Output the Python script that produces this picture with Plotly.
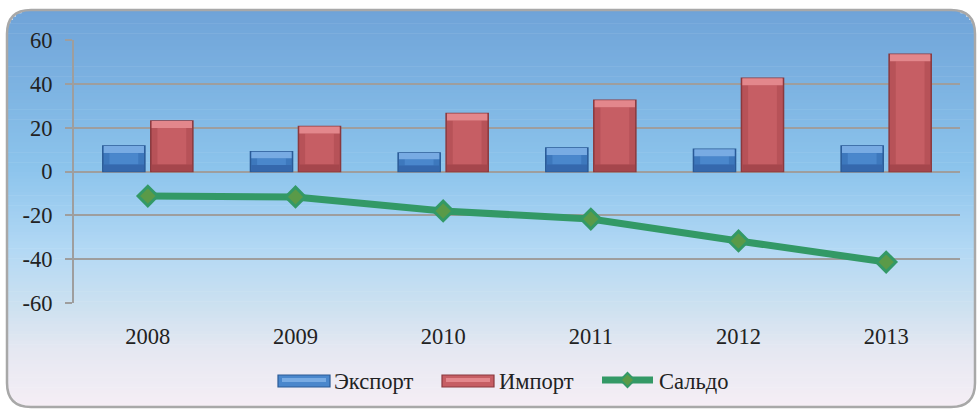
import plotly.graph_objects as go

# Trade figures by year
years = ["2008", "2009", "2010", "2011", "2012", "2013"]
export_vals = [11.6, 9.0, 8.4, 10.7, 10.2, 11.6]
import_vals = [23.0, 20.5, 26.5, 32.5, 42.5, 53.5]
saldo_vals = [-11.2, -11.6, -18.0, -21.7, -31.7, -41.3]
y_ticks = [-60, -40, -20, 0, 20, 40, 60]
y_ticktext = ["-60", "-40", "-20", "0", "20", "40", "60"]

W, H = 979, 410
ML, MR, MT, MB = 74, 19, 40, 107
PW, PH = W - ML - MR, H - MT - MB

FONT = "Liberation Serif"
FSIZE = 22.5
TXT = "#222222"
GRID = "#9e9e9e"

# bevel palettes: outline, side, centre, top face, bottom face
EXP = dict(ln="#2a5a96", side="#3d78bd", mid="#4a87cc", top="#78abe3", bot="#3568ad")
IMP = dict(ln="#8a393e", side="#b75258", mid="#c65e64", top="#e3878c", bot="#a5464c")
SAL_C = "#339966"


def px_x(v):
    return (v - ML) / PW


def px_y(v):
    return (H - MB - v) / PH


# Vertical background gradient (blue at top fading to pale pink-white)
stops = [
    (0.00, (111, 163, 216)),
    (0.40, (140, 196, 236)),
    (0.60, (178, 216, 244)),
    (0.75, (205, 225, 240)),
    (0.86, (230, 232, 242)),
    (1.00, (245, 238, 245)),
]


def grad(t):
    for (t0, c0), (t1, c1) in zip(stops, stops[1:]):
        if t <= t1:
            f = (t - t0) / (t1 - t0)
            return "rgb(%d,%d,%d)" % tuple(round(a + (b - a) * f) for a, b in zip(c0, c1))
    return "rgb(%d,%d,%d)" % stops[-1][1]


FX0, FX1, FY0, FY1, R = 7, 975, 10, 407, 24
shapes = []
n = 120
for i in range(n):
    ya = FY0 + (FY1 - FY0) * i / n
    yb = FY0 + (FY1 - FY0) * (i + 1) / n + 0.6
    ym = (ya + yb) / 2
    inset = 0.0
    if ym < FY0 + R:
        d = FY0 + R - ym
        inset = R - (R * R - d * d) ** 0.5
    elif ym > FY1 - R:
        d = ym - (FY1 - R)
        inset = R - (R * R - min(d, R) ** 2) ** 0.5
    shapes.append(dict(
        type="rect", xref="paper", yref="paper", layer="below",
        x0=px_x(FX0 + inset), x1=px_x(FX1 - inset), y0=px_y(yb), y1=px_y(ya),
        line=dict(width=0), fillcolor=grad((ym - FY0) / (FY1 - FY0)),
    ))

# Rounded frame
x0, x1, y0, y1 = px_x(FX0), px_x(FX1), px_y(FY1), px_y(FY0)
rx, ry = R / PW, R / PH
frame = (
    f"M {x0 + rx},{y1} L {x1 - rx},{y1} Q {x1},{y1} {x1},{y1 - ry} "
    f"L {x1},{y0 + ry} Q {x1},{y0} {x1 - rx},{y0} "
    f"L {x0 + rx},{y0} Q {x0},{y0} {x0},{y0 + ry} "
    f"L {x0},{y1 - ry} Q {x0},{y1} {x0 + rx},{y1} Z"
)
shapes.append(dict(type="path", xref="paper", yref="paper", path=frame,
                   line=dict(color="#a8a8a8", width=2.5), layer="above"))

# Custom legend keys (wide bevelled swatches and a line key)
annotations = []
LEG_Y = 381


def swatch(xa, xb, pal, label, tx):
    shapes.append(dict(type="rect", xref="paper", yref="paper",
                       x0=px_x(xa), x1=px_x(xb), y0=px_y(LEG_Y + 6), y1=px_y(LEG_Y - 6),
                       fillcolor=pal["mid"], line=dict(color=pal["ln"], width=1.2)))
    shapes.append(dict(type="rect", xref="paper", yref="paper",
                       x0=px_x(xa + 4), x1=px_x(xb - 4), y0=px_y(LEG_Y + 1), y1=px_y(LEG_Y - 3),
                       fillcolor=pal["top"], line=dict(width=0)))
    annotations.append(dict(xref="paper", yref="paper", x=px_x(tx), y=px_y(LEG_Y),
                            xanchor="left", yanchor="middle", showarrow=False,
                            text=label, font=dict(family=FONT, size=FSIZE, color=TXT)))


swatch(278, 330, EXP, "Экспорт", 332)
swatch(442, 494, IMP, "Импорт", 497)
shapes.append(dict(type="line", xref="paper", yref="paper",
                   x0=px_x(602), x1=px_x(653), y0=px_y(LEG_Y - 1), y1=px_y(LEG_Y - 1),
                   line=dict(color=SAL_C, width=7)))
cx, cy = px_x(627.5), px_y(LEG_Y - 1)
dx, dy = 7 / PW, 7 / PH
shapes.append(dict(type="path", xref="paper", yref="paper",
                   path=f"M {cx},{cy + dy} L {cx + dx},{cy} L {cx},{cy - dy} L {cx - dx},{cy} Z",
                   fillcolor="#5a9a48", line=dict(color=SAL_C, width=2)))
annotations.append(dict(xref="paper", yref="paper", x=px_x(657), y=px_y(LEG_Y),
                        xanchor="left", yanchor="middle", showarrow=False,
                        text="Сальдо", font=dict(family=FONT, size=FSIZE, color=TXT)))

BW = 0.285          # bar width in category units
SIDE = 0.045        # bevel width at the sides, category units
BEV = 3.2           # bevel height at top/bottom, value units

fig = go.Figure()


def bevel_bar(name, vals, off, pal):
    n_ = len(vals)
    bev = [min(BEV, 0.33 * v) for v in vals]
    common = dict(x=years, hoverinfo="skip", showlegend=False)
    # body (side faces + outline)
    fig.add_trace(go.Bar(name=name, x=years, y=vals, offset=off, width=BW,
                         marker=dict(color=pal["side"], line=dict(color=pal["ln"], width=1.5))))
    # centre face
    fig.add_trace(go.Bar(y=[v - 2 * b for v, b in zip(vals, bev)], base=bev,
                         offset=off + SIDE, width=BW - 2 * SIDE,
                         marker=dict(color=pal["mid"], line=dict(width=0)), **common))
    # top face
    fig.add_trace(go.Bar(y=bev, base=[v - b for v, b in zip(vals, bev)],
                         offset=off + 0.006, width=BW - 0.012,
                         marker=dict(color=pal["top"], line=dict(width=0)), **common))
    # bottom face
    fig.add_trace(go.Bar(y=bev, base=[0] * n_,
                         offset=off + 0.006, width=BW - 0.012,
                         marker=dict(color=pal["bot"], line=dict(width=0)), **common))


bevel_bar("Экспорт", export_vals, -0.305, EXP)
bevel_bar("Импорт", import_vals, 0.02, IMP)

fig.add_trace(go.Scatter(
    name="Сальдо", x=years, y=saldo_vals, mode="lines+markers",
    line=dict(color=SAL_C, width=7),
    marker=dict(symbol="diamond", size=15, color="#5a9a48",
                line=dict(color=SAL_C, width=3)),
))

fig.update_layout(
    width=W, height=H,
    margin=dict(l=ML, r=MR, t=MT, b=MB),
    paper_bgcolor="white",
    plot_bgcolor="rgba(0,0,0,0)",
    font=dict(family=FONT, size=FSIZE, color=TXT),
    barmode="overlay",
    shapes=shapes,
    annotations=annotations,
    showlegend=False,
    xaxis=dict(
        type="category", range=[-0.5, 5.5], showgrid=False, zeroline=False,
        showline=False, ticks="outside", ticklen=13, tickcolor="rgba(0,0,0,0)",
    ),
    xaxis2=dict(
        overlaying="x", anchor="free", position=0.5, range=[-0.5, 5.5],
        tickvals=[0.5, 1.5, 2.5, 3.5, 4.5, 5.5], ticks="inside", ticklen=7,
        tickwidth=2, tickcolor=GRID, showticklabels=False, showgrid=False,
        zeroline=False, showline=True, linecolor=GRID, linewidth=2,
    ),
    yaxis=dict(
        range=[-60, 60], tickvals=y_ticks, ticktext=y_ticktext,
        showgrid=True, gridcolor=GRID, gridwidth=2, zeroline=False,
        showline=True, linecolor=GRID, linewidth=2,
        ticks="outside", ticklen=7, tickwidth=2, tickcolor=GRID,
        ticklabelstandoff=8,
    ),
)

fig.write_html("out.html")
